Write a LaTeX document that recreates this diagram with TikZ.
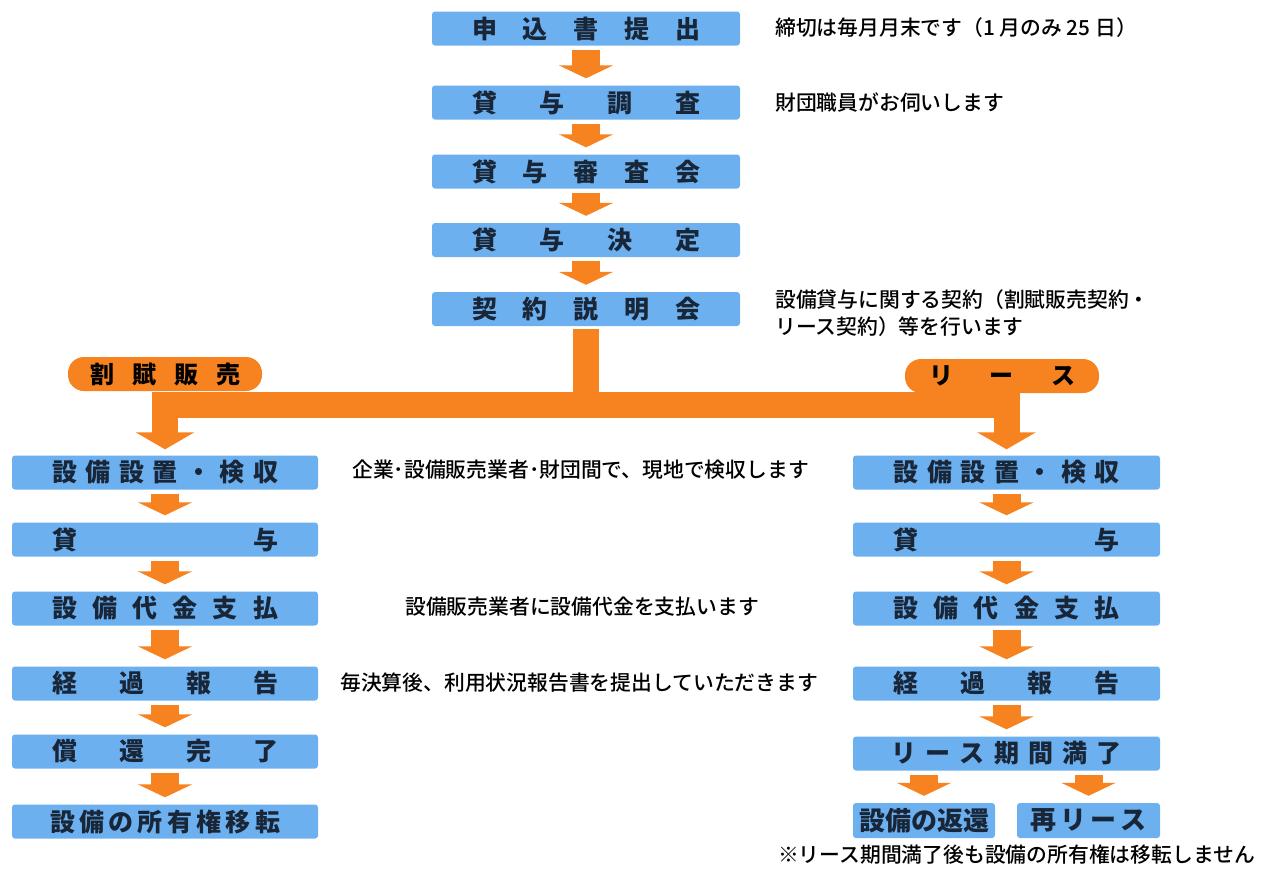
\documentclass[tikz,border=0pt]{standalone}
\usepackage{fontspec}
\setmainfont{Noto Sans CJK JP}
\newfontfamily\notefont{Noto Sans CJK JP}[UprightFont={* Medium}]
\usetikzlibrary{arrows.meta}
\definecolor{boxblue}{RGB}{108,176,240}
\definecolor{navy}{RGB}{24,38,56}
\definecolor{flow}{RGB}{246,130,32}
\newcommand\spr[2]{\makebox[#1]{#2}}
\tikzset{
  box/.style={fill=boxblue, rounded corners=3pt, minimum height=34pt, inner sep=0pt,
    text=navy, font=\bfseries\fontsize{25}{25}\selectfont},
  pill/.style={fill=flow, rounded corners=16pt, minimum height=34pt, minimum width=194pt,
    inner sep=0pt, text=black, font=\bfseries\fontsize{24}{24}\selectfont},
  note/.style={anchor=west, inner sep=0pt, text=black, font=\notefont\fontsize{20.8}{20.8}\selectfont},
  smallflow/.style={draw=flow, line width=28pt, shorten <=4pt, shorten >=7pt,
    -{Triangle[width=54pt,length=13pt]}},
  bigflow/.style={draw=flow, line width=26pt, line join=miter, shorten <=3pt, shorten >=6pt,
    -{Triangle[width=58pt,length=17pt]}}
}
\begin{document}
\begin{tikzpicture}[x=1pt,y=-1pt]
\useasboundingbox (0,0) rectangle (1263,868);
% top column
\node[box, minimum width=308pt] (b1) at (586,28.5) {\spr{228pt}{申\hfill 込\hfill 書\hfill 提\hfill 出}};
\node[box, minimum width=308pt] (b2) at (586,102.5) {\spr{228pt}{貸\hfill 与\hfill 調\hfill 査}};
\node[box, minimum width=308pt] (b3) at (586,171.5) {\spr{228pt}{貸\hfill 与\hfill 審\hfill 査\hfill 会}};
\node[box, minimum width=308pt] (b4) at (586,240) {\spr{228pt}{貸\hfill 与\hfill 決\hfill 定}};
\node[box, minimum width=308pt] (b5) at (586,309) {\spr{228pt}{契\hfill 約\hfill 説\hfill 明\hfill 会}};
% notes top
\node[note] (n1) at (775,28) {締切は毎月月末です（1 月のみ 25 日）};
\node[note] (n2) at (775,102) {財団職員がお伺いします};
\node[note] (n3) at (775,300) {設備貸与に関する契約（割賦販売契約・};
\node[note] (n4) at (775,327) {リース契約）等を行います};
% pills
\node[pill] (p1) at (165,374) {\spr{150pt}{割\hfill 賦\hfill 販\hfill 売}};
\node[pill] (p2) at (1002,376) {\spr{146pt}{リ\hfill ー\hfill ス}};
% left column
\node[box, minimum width=306pt] (L1) at (165,472.5) {\spr{226pt}{設\hfill 備\hfill 設\hfill 置\hfill ・\hfill 検\hfill 収}};
\node[box, minimum width=306pt] (L2) at (165,539.5) {\spr{226pt}{貸\hfill 与}};
\node[box, minimum width=306pt] (L3) at (165,608.5) {\spr{226pt}{設\hfill 備\hfill 代\hfill 金\hfill 支\hfill 払}};
\node[box, minimum width=306pt] (L4) at (165,683.5) {\spr{226pt}{経\hfill 過\hfill 報\hfill 告}};
\node[box, minimum width=306pt] (L5) at (165,751.5) {\spr{226pt}{償\hfill 還\hfill 完\hfill 了}};
\node[box, minimum width=306pt] (L6) at (165,821.5) {\spr{230pt}{設\hfill 備\hfill の\hfill 所\hfill 有\hfill 権\hfill 移\hfill 転}};
% notes left
\node[note] (n5) at (352,470) {企業･設備販売業者･財団間で、現地で検収します};
\node[note] (n6) at (405,607) {設備販売業者に設備代金を支払います};
\node[note] (n7) at (340,683) {毎決算後、利用状況報告書を提出していただきます};
% right column
\node[box, minimum width=307pt] (R1) at (1006.5,472.5) {\spr{226pt}{設\hfill 備\hfill 設\hfill 置\hfill ・\hfill 検\hfill 収}};
\node[box, minimum width=307pt] (R2) at (1006.5,539.5) {\spr{226pt}{貸\hfill 与}};
\node[box, minimum width=307pt] (R3) at (1006.5,608.5) {\spr{226pt}{設\hfill 備\hfill 代\hfill 金\hfill 支\hfill 払}};
\node[box, minimum width=307pt] (R4) at (1006.5,683.5) {\spr{226pt}{経\hfill 過\hfill 報\hfill 告}};
\node[box, minimum width=307pt] (R5) at (1006.5,753.5) {\spr{230pt}{リ\hfill ー\hfill ス\hfill 期\hfill 間\hfill 満\hfill 了}};
\node[box, minimum width=142pt, minimum height=35pt, font=\bfseries\fontsize{26}{26}\selectfont] (R6) at (924,820.5) {設備の返還};
\node[box, minimum width=143pt, minimum height=35pt, font=\bfseries\fontsize{26}{26}\selectfont] (R7) at (1088.5,820.5) {\spr{116pt}{再\hfill リ\hfill ー\hfill ス}};
\node[note, anchor=east] (n8) at (1255,855) {※リース期間満了後も設備の所有権は移転しません};
% small arrows
\draw[smallflow] (b1) -- (b2);
\draw[smallflow] (b2) -- (b3);
\draw[smallflow] (b3) -- (b4);
\draw[smallflow] (b4) -- (b5);
\draw[smallflow] (L1) -- (L2);
\draw[smallflow] (L2) -- (L3);
\draw[smallflow] (L3) -- (L4);
\draw[smallflow] (L4) -- (L5);
\draw[smallflow] (L5) -- (L6);
\draw[smallflow] (R1) -- (R2);
\draw[smallflow] (R2) -- (R3);
\draw[smallflow] (R3) -- (R4);
\draw[smallflow] (R4) -- (R5);
\draw[smallflow] (R5.south -| R6.north) -- (R6.north);
\draw[smallflow] (R5.south -| R7.north) -- (R7.north);
% big split
\coordinate (j) at (586,405);
\draw[bigflow] (b5.south) -- (j) -| (L1.north);
\draw[bigflow] (b5.south) -- (j) -| (R1.north);
\end{tikzpicture}
\end{document}
